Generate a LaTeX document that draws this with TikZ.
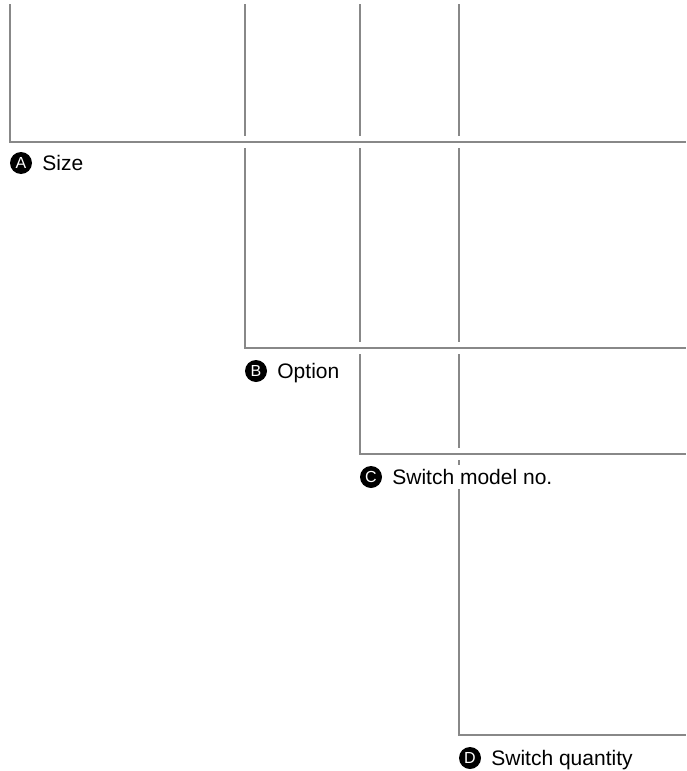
\documentclass[tikz,border=0pt]{standalone}
\usepackage{fontspec}
\setmainfont{Liberation Sans}
\usetikzlibrary{positioning}
\definecolor{framegray}{HTML}{888888}
\tikzset{
  frameline/.style={draw=framegray, line width=2.7pt, preaction={draw=white, line width=12pt}},
  markdot/.style={circle, fill=black, text=white, inner sep=0pt, minimum size=22pt, font=\fontsize{16}{16}\selectfont},
  marktext/.style={inner sep=2pt, text height=17pt, text depth=3pt, font=\fontsize{21}{25}\selectfont},
}
\begin{document}
\begin{tikzpicture}[x=1pt, y=-1pt]
  \useasboundingbox (0,0) rectangle (686,771);
  % frame D
  \coordinate(dtop)at(459,4);
  \coordinate(dcor)at(459,735);
  \coordinate(dend)at(686,735);
  \path[draw=framegray, line width=2.7pt](dtop)--(dcor)--(dend);
  % frame C
  \coordinate(ctop)at(360,4);
  \coordinate(ccor)at(360,454);
  \coordinate(cend)at(686,454);
  \path[frameline](ctop)--(ccor)--(cend);
  % frame B
  \coordinate(btop)at(245,4);
  \coordinate(bcor)at(245,348);
  \coordinate(bend)at(686,348);
  \path[frameline](btop)--(bcor)--(bend);
  % frame A
  \coordinate(atop)at(10,4);
  \coordinate(acor)at(10,142);
  \coordinate(aend)at(686,142);
  \path[frameline](atop)--(acor)--(aend);
  % labels
  \node[markdot](markA)at(21,163){A};
  \node[marktext, right=8pt of markA](textA){Size};
  \node[markdot](markB)at(256,371){B};
  \node[marktext, right=8pt of markB](textB){Option};
  \node[markdot](markC)at(371,477){C};
  \node[marktext, fill=white, right=8pt of markC](textC){Switch model no.};
  \node[markdot](markD)at(470,758){D};
  \node[marktext, right=8pt of markD](textD){Switch quantity};
\end{tikzpicture}
\end{document}
